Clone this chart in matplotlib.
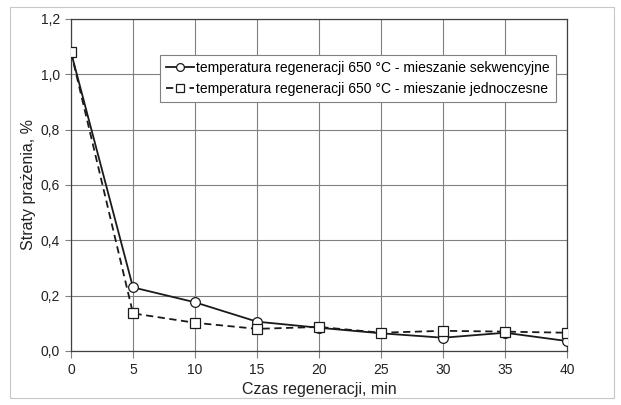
import matplotlib
matplotlib.use("Agg")
import matplotlib.pyplot as plt
from matplotlib.patches import Rectangle
from matplotlib.ticker import FuncFormatter

plt.rcParams['font.family'] = ['Liberation Sans', 'DejaVu Sans']

czas = [0, 5, 10, 15, 20, 25, 30, 35, 40]
sekwencyjne = [1.08, 0.230, 0.176, 0.106, 0.084, 0.064, 0.048, 0.066, 0.036]
jednoczesne = [1.08, 0.136, 0.102, 0.080, 0.087, 0.066, 0.073, 0.070, 0.066]
label_sek = "temperatura regeneracji 650 °C - mieszanie sekwencyjne"
label_jed = "temperatura regeneracji 650 °C - mieszanie jednoczesne"

fig = plt.figure(figsize=(6.21, 4.05), dpi=100)
fig.patches.append(Rectangle((10/621, 7/405), 604/621, 391/405, transform=fig.transFigure,
                             fill=False, edgecolor='#c8c8c8', linewidth=0.8))
ax = fig.add_axes([71/621, 1-351/405, (567-71)/621, (351-19)/405])

ax.plot(czas, sekwencyjne, '-', color='#1a1a1a', lw=1.3, marker='o', ms=7,
        mfc='white', mec='#1a1a1a', mew=0.9, label=label_sek, zorder=3)
ax.plot(czas, jednoczesne, '--', color='#1a1a1a', lw=1.3, marker='s', ms=7,
        mfc='white', mec='#1a1a1a', mew=0.9, label=label_jed, zorder=3, dashes=(4, 2.5))

ax.set_xlim(0, 40)
ax.set_ylim(0, 1.2)
ax.set_xticks(range(0, 41, 5))
ax.set_yticks([0, 0.2, 0.4, 0.6, 0.8, 1.0, 1.2])
ax.yaxis.set_major_formatter(FuncFormatter(lambda v, p: f"{v:.1f}".replace('.', ',')))
ax.grid(True, color='#808080', lw=0.8)
ax.set_axisbelow(True)
for s in ax.spines.values():
    s.set_color('#404040')
    s.set_linewidth(0.9)
ax.tick_params(labelsize=10, length=4, color='#808080', width=0.8, labelcolor='#222222',
               direction='out', pad=4)
ax.tick_params(axis='x', length=5, pad=4)
ax.set_xlabel("Czas regeneracji, min", fontsize=11.5, color='#222222', labelpad=3)
ax.set_ylabel("Straty prażenia, %", fontsize=11.5, color='#222222', labelpad=3)

leg = ax.legend(loc='upper left', bbox_to_anchor=((160-71)/496, (351-55)/332), fontsize=10,
                frameon=True, fancybox=False, edgecolor='#808080', framealpha=1,
                handlelength=2.0, handletextpad=0.15, borderpad=0.45, labelspacing=0.45,
                borderaxespad=0, markerscale=0.8)
leg.get_frame().set_linewidth(0.8)

fig.savefig("out.png", dpi=100)
